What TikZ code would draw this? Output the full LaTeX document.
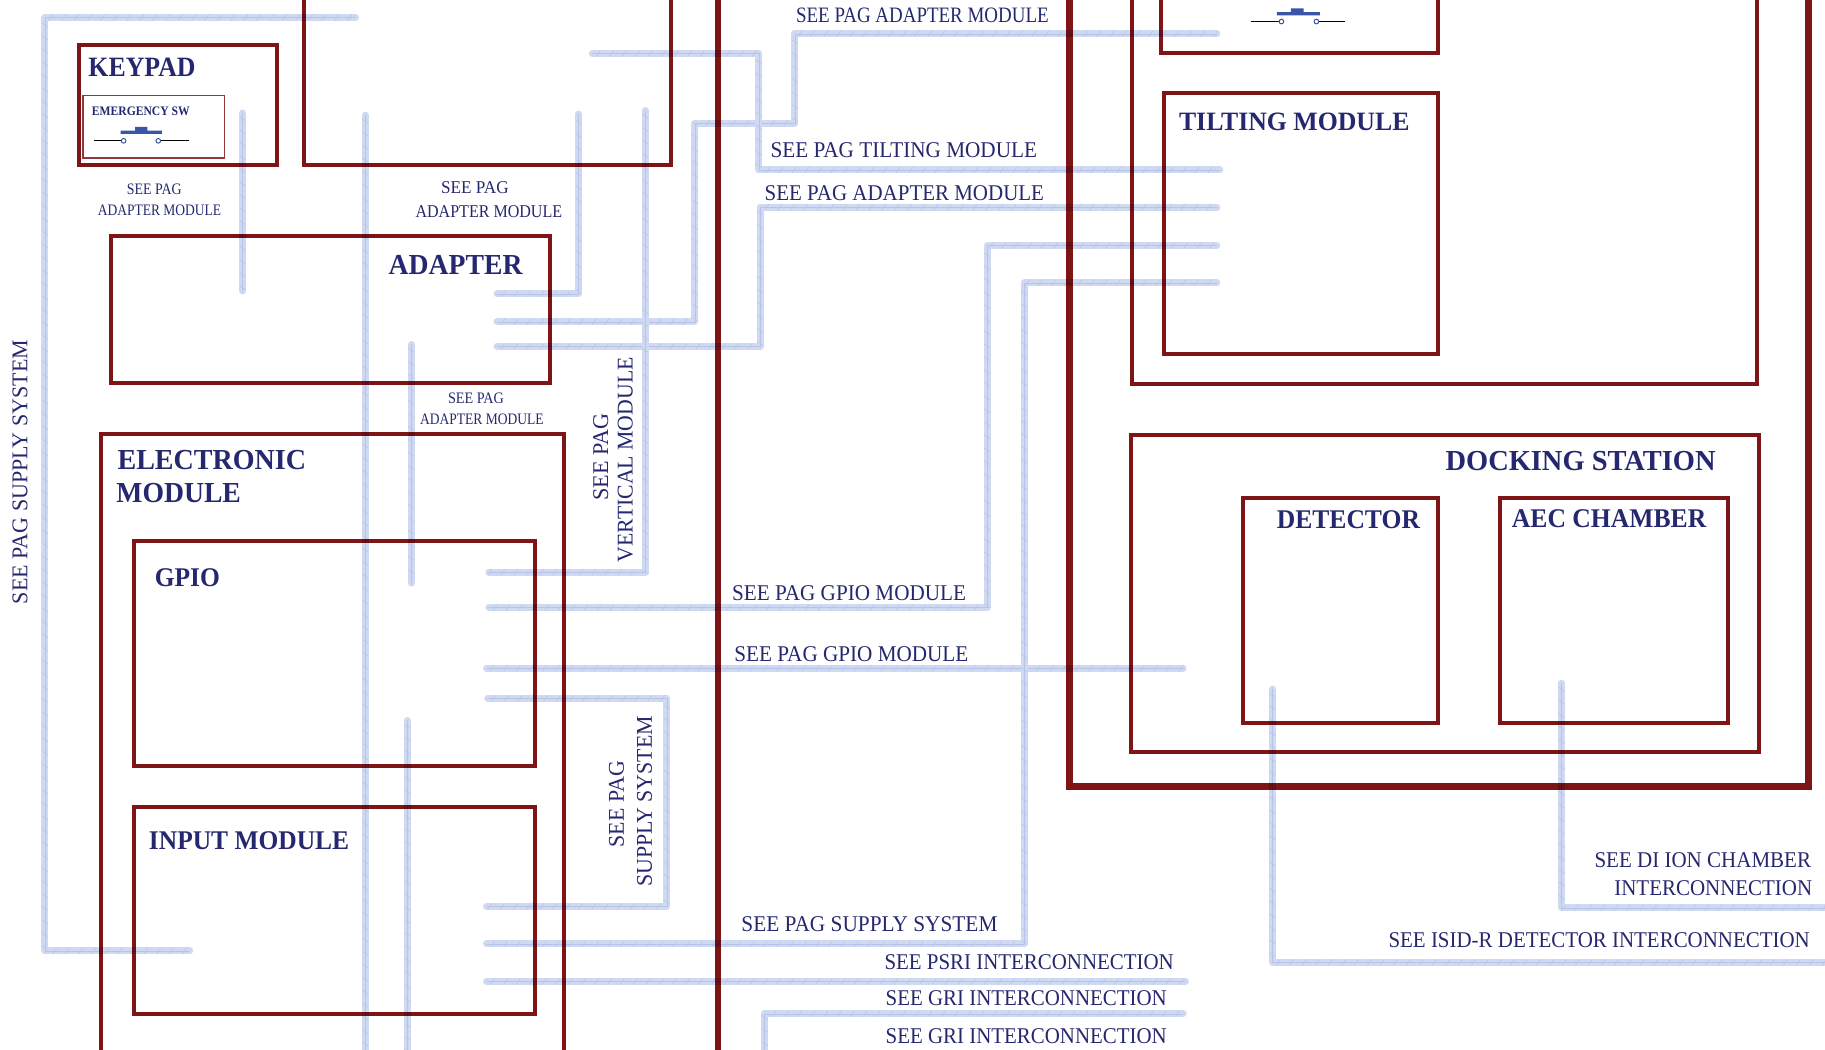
\documentclass[tikz,border=0pt]{standalone}
\usepackage{fontspec}
\usepackage{graphicx}
\setmainfont{Liberation Serif}
\usetikzlibrary{decorations.markings}
\definecolor{wine}{HTML}{7F1416}
\definecolor{navy}{HTML}{25276F}
\definecolor{cablelight}{HTML}{CFD9F1}
\definecolor{cablemid}{HTML}{B7C4E8}
\definecolor{swblue}{HTML}{3A55A8}
\newdimen\unitpx \unitpx=1.1639pt
\tikzset{
  x=1.1639pt, y=-1.1639pt,
  frameA/.style={draw=wine, line width=4pt, inner sep=0pt, outer sep=0pt},
  frameB/.style={draw=wine, line width=7pt, inner sep=0pt, outer sep=0pt},
  frameC/.style={draw=wine!85, line width=1.6pt, inner sep=0pt, outer sep=0pt},
  cable/.style={draw=cablelight, line width=7pt, line cap=round, line join=round,
    postaction={draw=cablemid, line width=.5pt},
    postaction={decorate, decoration={markings,
      mark=between positions 6pt and 1 step 13pt with {\draw[cablemid, line width=.5pt] (-2pt,-3pt)--(2pt,3pt);}}}},
  lbl/.style={inner sep=0pt, outer sep=0pt, text=navy},
}
\newcommand\framebx[6]{% style name x1 y1 x2 y2
  \node[#1, minimum width=#4\unitpx-#2\unitpx, minimum height=#5\unitpx-#3\unitpx, anchor=north west] (#6) at (#2,#3) {};}
\newcommand\lab[7]{\node[lbl,anchor=#4] (#1) at (#2,#3) {\fontsize{#5}{#5}\selectfont\resizebox{#6\unitpx}{\height}{#7}};}
\newcommand\rlab[7]{\node[lbl,anchor=#4,rotate=90] (#1) at (#2,#3) {\fontsize{#5}{#5}\selectfont\resizebox{#6\unitpx}{\height}{#7}};}
\begin{document}
\begin{tikzpicture}
\useasboundingbox (0,0) rectangle (1568,901.3);
\clip (0,0) rectangle (1568,901.3);
% cable end points
\coordinate (a1) at (305.5,15); \coordinate (a2) at (38.5,817); \coordinate (a3) at (163,817);
\coordinate (b1) at (208.5,97); \coordinate (b2) at (208.5,250);
\coordinate (c1) at (314,99); \coordinate (c2) at (314,910);
\coordinate (d1) at (353.5,296); \coordinate (d2) at (353.5,501);
\coordinate (e1) at (350,619); \coordinate (e2) at (350,910);
\coordinate (f1) at (427,252.5); \coordinate (f2) at (497,98);
\coordinate (g1) at (427,276.5); \coordinate (g2) at (597,106); \coordinate (g3) at (683,29); \coordinate (g4) at (1045.5,29);
\coordinate (h1) at (509,46); \coordinate (h2) at (652,146); \coordinate (h3) at (1048,146);
\coordinate (i1) at (427,297.5); \coordinate (i2) at (653,178); \coordinate (i3) at (1045.5,178);
\coordinate (j1) at (554.5,95); \coordinate (j2) at (420,491.5);
\coordinate (k1) at (420,522); \coordinate (k2) at (848,211); \coordinate (k3) at (1045.5,211);
\coordinate (l1) at (418,574); \coordinate (l2) at (1016.5,574);
\coordinate (m1) at (419,600); \coordinate (m2) at (573,779); \coordinate (m3) at (418,779);
\coordinate (n1) at (418,811); \coordinate (n2) at (880,243); \coordinate (n3) at (1045.5,243);
\coordinate (o1) at (418,843); \coordinate (o2) at (1018.5,843);
\coordinate (p1) at (1016.5,871); \coordinate (p2) at (657,910);
\coordinate (q1) at (1093.5,592); \coordinate (q2) at (1580,827);
\coordinate (r1) at (1341.5,587); \coordinate (r2) at (1580,780);
% cables
\draw[cable] (a1) -| (a2) -- (a3);
\draw[cable] (b1) -- (b2);
\draw[cable] (c1) -- (c2);
\draw[cable] (d1) -- (d2);
\draw[cable] (e1) -- (e2);
\draw[cable] (f1) -| (f2);
\draw[cable] (g1) -| (g2) -| (g3) -- (g4);
\draw[cable] (h1) -| (h2) -- (h3);
\draw[cable] (i1) -| (i2) -- (i3);
\draw[cable] (j1) |- (j2);
\draw[cable] (k1) -| (k2) -- (k3);
\draw[cable] (l1) -- (l2);
\draw[cable] (m1) -| (m2) -- (m3);
\draw[cable] (n1) -| (n2) -- (n3);
\draw[cable] (o1) -- (o2);
\draw[cable] (p1) -| (p2);
\draw[cable] (q1) |- (q2);
\draw[cable] (r1) |- (r2);
% frames
\begin{scope}[blend mode=multiply]
\framebx{frameA}{67.5}{38.5}{238.3}{142}{keypad}
\framebx{frameC}{71.5}{82}{193}{136}{emergency}
\framebx{frameA}{261.5}{-40}{576.5}{142}{topbox}
\framebx{frameA}{95}{202.5}{472.3}{329}{adapter}
\framebx{frameA}{87}{372.5}{485}{960}{electronic}
\framebx{frameA}{115.5}{464.5}{460}{658.5}{gpio}
\framebx{frameA}{115.5}{693.5}{460}{871.5}{inputmod}
\framebx{frameB}{918.5}{-40}{1554}{675.5}{rightbox}
\framebx{frameA}{973}{-40}{1509.5}{329.5}{innerbox}
\framebx{frameA}{997.5}{-40}{1235.5}{45.5}{topsmall}
\framebx{frameA}{1000.5}{79.5}{1235.5}{304.5}{tilting}
\framebx{frameA}{971.5}{373.5}{1511.5}{646}{docking}
\framebx{frameA}{1068}{427.5}{1235.5}{621.5}{detector}
\framebx{frameA}{1289}{427.5}{1485}{621.5}{aec}
\node[draw=wine, line width=5.5pt, inner sep=0pt, outer sep=0pt, minimum width=0pt, minimum height=1000\unitpx, anchor=north] (midbar) at (617,-40) {};
\end{scope}
% switches
\draw[black, line width=1pt] (81,121) -- (104.5,121) (137.5,121) -- (162,121);
\draw[swblue, line width=1pt] (106.2,121) circle[radius=2] (136,121) circle[radius=2];
\fill[swblue] (103.6,112.3) rectangle (139,115) (116,109) rectangle (126.6,112.3);
\draw[black, line width=1pt] (1075,18.5) -- (1099.3,18.5) (1132.7,18.5) -- (1156,18.5);
\draw[swblue, line width=1pt] (1101,18.5) circle[radius=2] (1131,18.5) circle[radius=2];
\fill[swblue] (1097,10.5) rectangle (1134,13.2) (1109,7.2) rectangle (1120,10.5);
% bold headings
\lab{tKeypad}{76}{65.5}{base west}{28}{92}{\bfseries KEYPAD}
\lab{tEmerg}{79}{99}{base west}{13}{84}{\bfseries EMERGENCY SW}
\lab{tAdapter}{334}{235.5}{base west}{29}{115}{\bfseries ADAPTER}
\lab{tElec}{101}{403.5}{base west}{29}{162}{\bfseries ELECTRONIC}
\lab{tMod}{100}{431.5}{base west}{29}{107}{\bfseries MODULE}
\lab{tGpio}{133}{503.5}{base west}{27}{56}{\bfseries GPIO}
\lab{tInput}{128}{729.5}{base west}{27}{172}{\bfseries INPUT MODULE}
\lab{tTilt}{1013}{112.5}{base west}{26.5}{198}{\bfseries TILTING MODULE}
\lab{tDock}{1242}{404.5}{base west}{29}{232}{\bfseries DOCKING STATION}
\lab{tDet}{1097}{454}{base west}{27}{123}{\bfseries DETECTOR}
\lab{tAec}{1299}{453.5}{base west}{27}{167}{\bfseries AEC CHAMBER}
% small labels
\lab{s1}{109}{167}{base west}{16}{47}{SEE PAG}
\lab{s2}{84}{185}{base west}{16}{106}{ADAPTER MODULE}
\lab{s3}{379}{166.5}{base west}{18}{58}{SEE PAG}
\lab{s4}{357}{187}{base west}{18}{126}{ADAPTER MODULE}
\lab{s5}{385}{347}{base west}{16}{48}{SEE PAG}
\lab{s6}{361}{365}{base west}{16}{106}{ADAPTER MODULE}
% cable labels
\lab{l1t}{684}{19}{base west}{22}{217}{SEE PAG ADAPTER MODULE}
\lab{l2t}{662}{135.5}{base west}{22.5}{229}{SEE PAG TILTING MODULE}
\lab{l3t}{657}{172}{base west}{22.5}{240}{SEE PAG ADAPTER MODULE}
\lab{l4t}{629}{516}{base west}{22.5}{201}{SEE PAG GPIO MODULE}
\lab{l5t}{631}{568.5}{base west}{22.5}{201}{SEE PAG GPIO MODULE}
\lab{l6t}{637}{800}{base west}{22.5}{220}{SEE PAG SUPPLY SYSTEM}
\lab{l7t}{760}{833}{base west}{22.5}{248.5}{SEE PSRI INTERCONNECTION}
\lab{l8t}{761}{864}{base west}{22.5}{241.5}{SEE GRI INTERCONNECTION}
\lab{l9t}{761}{896.5}{base west}{22.5}{241.5}{SEE GRI INTERCONNECTION}
\lab{l10t}{1556}{745}{base east}{22.5}{186}{SEE DI ION CHAMBER}
\lab{l11t}{1557}{769}{base east}{22.5}{170}{INTERCONNECTION}
\lab{l12t}{1555}{814}{base east}{22.5}{362}{SEE ISID-R DETECTOR INTERCONNECTION}
% rotated labels
\rlab{r1t}{23.5}{519}{base west}{22.5}{227}{SEE PAG SUPPLY SYSTEM}
\rlab{r2t}{522.5}{430}{base west}{22.5}{75}{SEE PAG}
\rlab{r3t}{543.5}{483}{base west}{22.5}{176}{VERTICAL MODULE}
\rlab{r4t}{536}{728}{base west}{22.5}{74}{SEE PAG}
\rlab{r5t}{560}{762}{base west}{22.5}{147}{SUPPLY SYSTEM}
\end{tikzpicture}
\end{document}
